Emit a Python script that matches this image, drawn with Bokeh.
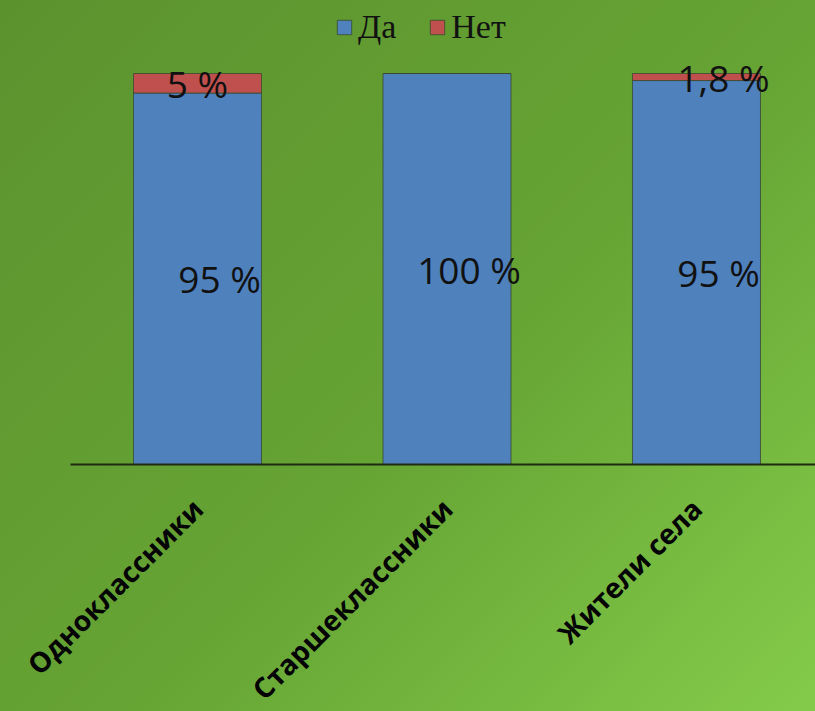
import math
from bokeh.plotting import figure
from bokeh.models import ColumnDataSource, Legend, LegendItem, GlobalInlineStyleSheet, FixedTicker
from bokeh.core.properties import value
from bokeh.embed import file_html
from bokeh.resources import INLINE

categories = ["Одноклассники", "Старшеклассники", "Жители села"]
series = ["Да", "Нет"]
da = [95, 100, 98.2]
net = [5, 0, 1.8]
da_labels = ["95 %", "100 %", "95 %"]
net_labels = ["5 %", "", "1,8 %"]

BLUE = "#4f81bd"
RED = "#c0504d"

pos = list(range(len(categories)))
src = ColumnDataSource(dict(
    x=pos,
    Да=da,
    Нет=net,
    da_mid=[v / 2 for v in da],
    net_mid=[a + b / 2 for a, b in zip(da, net)],
    da_lbl=da_labels,
    net_lbl=net_labels,
    net_dx=[0, 0, 27],
))

p = figure(x_range=(-0.7896, 2.477), y_range=(-63.17, 118.67), width=815, height=711,
           output_backend="svg", toolbar_location=None,
           min_border_left=0, min_border_right=0, min_border_top=0,
           min_border_bottom=0)
p.background_fill_color = None
p.border_fill_color = None
p.outline_line_color = None
p.stylesheets = [GlobalInlineStyleSheet(css=
    "html, body { background: linear-gradient(135deg, #5c922e 0%, #66a434 55%, #84cb4a 100%) fixed; min-height: 100%; }")]

rs = p.vbar_stack(series, x="x", width=0.513, color=[BLUE, RED], source=src,
                  line_color="#3a4a30", line_width=1, line_alpha=0.8)

p.text(x="x", y="da_mid", text="da_lbl", source=src, x_offset=22,
       text_align="center", text_baseline="middle", text_color="#111111",
       text_font=value("Open Sans"), text_font_size="37px")
p.text(x="x", y="net_mid", text="net_lbl", source=src, x_offset="net_dx",
       text_align="center", text_baseline="middle", text_color="#111111",
       text_font=value("Open Sans"), text_font_size="37px")

legend = Legend(items=[LegendItem(label=s, renderers=[r]) for s, r in zip(series, rs)],
                location=(335, 665), orientation="horizontal",
                background_fill_alpha=0, border_line_color=None,
                padding=0, margin=0, spacing=32, label_standoff=5,
                glyph_width=18, glyph_height=18,
                label_text_font="Liberation Serif", label_text_font_size="34px",
                label_text_color="#111111")
p.add_layout(legend)

p.xgrid.grid_line_color = None
p.ygrid.grid_line_color = None
p.yaxis.visible = False
p.xaxis.fixed_location = 0
p.xaxis.bounds = (-0.509, 3)
p.xaxis.ticker = FixedTicker(ticks=pos)
p.xaxis.major_label_overrides = {i: c for i, c in zip(pos, categories)}
p.xaxis.major_tick_line_color = None
p.xaxis.minor_tick_line_color = None
p.xaxis.axis_line_color = "#1e2a12"
p.xaxis.axis_line_width = 2
p.xaxis.major_label_orientation = math.pi / 4
p.xaxis.major_label_text_font = "Open Sans"
p.xaxis.major_label_text_font_style = "bold"
p.xaxis.major_label_text_font_size = "28px"
p.xaxis.major_label_text_color = "#000000"
p.xaxis.major_label_standoff = 33

open("out.html", "w").write(file_html(p, INLINE))
